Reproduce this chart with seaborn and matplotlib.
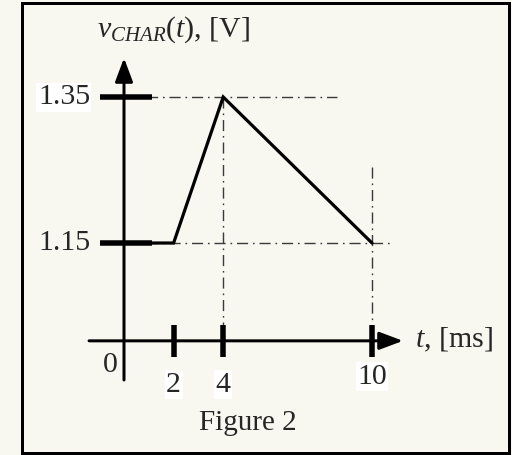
import matplotlib
matplotlib.use("Agg")
import matplotlib.pyplot as plt
from matplotlib.patches import Rectangle
import seaborn as sns
import pandas as pd

# Piecewise-linear characteristic voltage
t_ms = [0, 2, 4, 10]
v_char = [1.15, 1.15, 1.35, 1.15]

x_ticks = [2, 4, 10]
x_tick_labels = ["2", "4", "10"]
y_ticks = [1.35, 1.15]
y_tick_labels = ["1.35", "1.15"]

title_text = r"$v_{CHAR}(t)$, [V]"
xlabel_text = r"$t$, [ms]"
caption_text = "Figure 2"

sns.set_style("white")
plt.rcParams["font.family"] = ["Liberation Serif", "DejaVu Serif"]
plt.rcParams["mathtext.fontset"] = "custom"
plt.rcParams["mathtext.rm"] = "Liberation Serif"
plt.rcParams["mathtext.it"] = "Liberation Serif:italic"

BG = "#f8f8f0"
W, H, DPI = 512, 455, 100
PX = 72.0 / DPI  # points per pixel

fig = plt.figure(figsize=(W / DPI, H / DPI), dpi=DPI, facecolor=BG)
ax = fig.add_axes([0, 0, 1, 1])
ax.set_facecolor(BG)
ax.axis("off")

# schematic coordinate frame: origin on the time axis sits below the 1.15 V level
x0_axis = 1.016
ax.set_xlim(-5.0, 15.645)
ax.set_ylim(0.8596, 1.4829)

FS = 21.5
guide_kw = dict(color="#3a3a3a", lw=1.0, linestyle=(0, (8, 3.5, 1.2, 3.5)))

# dash-dot guide lines
ax.plot([0, 8.6], [1.35, 1.35], **guide_kw)
ax.plot([0, 10.9], [1.15, 1.15], **guide_kw)
ax.plot([4, 4], [1.35, x0_axis], **guide_kw)
ax.plot([10, 10], [1.254, x0_axis], **guide_kw)

# axes with arrowheads
arrow_kw = dict(arrowstyle=f"-|>,head_length={20*PX:.2f},head_width={7.5*PX:.2f}",
                lw=3.0 * PX, color="black", shrinkA=0, shrinkB=0, mutation_scale=1)
ax.annotate("", xy=(0, 1.4034), xytext=(0, 0.9623), arrowprops=arrow_kw)
ax.annotate("", xy=(11.25, x0_axis), xytext=(-1.41, x0_axis), arrowprops=arrow_kw)

# signal
df = pd.DataFrame({"t": t_ms, "v": v_char})
sns.lineplot(data=df, x="t", y="v", sort=False, estimator=None, color="black",
             lw=3.2 * PX, ax=ax, solid_joinstyle="miter")

# heavy tick marks
ax.plot(x_ticks, [x0_axis] * len(x_ticks), ls="none", marker="|",
        ms=32 * PX, mew=5.5 * PX, color="black")
ax.plot([0.08] * len(y_ticks), y_ticks, ls="none", marker="_",
        ms=52 * PX, mew=5.5 * PX, color="black")

box = dict(fc="white", ec="none", pad=1.0)

# tick labels
for yv, lab, bg in zip(y_ticks, y_tick_labels, [box, None]):
    ax.annotate(lab, xy=(0, yv), xytext=(-34, 0), textcoords="offset pixels",
                ha="right", va="center", fontsize=FS, bbox=bg)
for xv, lab, dy in zip(x_ticks, x_tick_labels, [-44, -44, -36]):
    ax.annotate(lab, xy=(xv, x0_axis), xytext=(0, dy), textcoords="offset pixels",
                ha="center", va="center", fontsize=FS, bbox=box)
ax.annotate("0", xy=(0, x0_axis), xytext=(-14, -24), textcoords="offset pixels",
            ha="center", va="center", fontsize=FS)

# axis names
ax.annotate(title_text, xy=(0, 1.4034), xytext=(49, 28), textcoords="offset pixels",
            ha="center", va="center", fontsize=FS)
ax.annotate(xlabel_text, xy=(11.25, x0_axis), xytext=(12, 1), textcoords="offset pixels",
            ha="left", va="center", fontsize=FS)

fig.text(248 / W, 1 - 423 / H, caption_text, ha="center", va="center", fontsize=FS - 0.5)

# frame around the figure
fig.patches.append(Rectangle((22 / W, 2 / H), (509 - 22) / W, (452 - 2) / H,
                             transform=fig.transFigure, fill=False, lw=3 * PX,
                             ec="black"))

fig.savefig("out.png", dpi=DPI, facecolor=BG)
